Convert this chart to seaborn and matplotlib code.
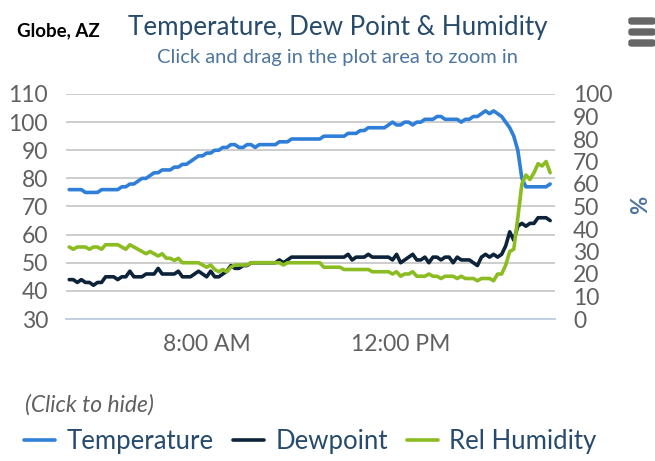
import pandas as pd
import matplotlib
matplotlib.use("Agg")
import matplotlib.pyplot as plt
from matplotlib.patches import FancyBboxPatch
import seaborn as sns

# readings every 5 minutes, 5:10 AM .. 3:05 PM
start_time = "2024-06-01 05:10"
n_points = 120

temperature = [76, 76, 76, 76, 75, 75, 75, 75, 76, 76,
               76, 76, 76, 77, 77, 78, 78, 79, 80, 80,
               81, 82, 82, 83, 83, 83, 84, 84, 85, 85,
               86, 87, 88, 88, 89, 89, 90, 90, 91, 91,
               92, 92, 91, 91, 92, 92, 91, 92, 92, 92,
               92, 92, 93, 93, 93, 94, 94, 94, 94, 94,
               94, 94, 94, 95, 95, 95, 95, 95, 95, 96,
               96, 96, 97, 97, 98, 98, 98, 98, 98, 99,
               100, 99, 99, 100, 100, 99, 100, 100, 101, 101,
               101, 102, 102, 101, 101, 101, 101, 100, 101, 101,
               102, 102, 103, 104, 103, 104, 103, 102, 100, 98,
               95, 90, 80, 77, 77, 77, 77, 77, 77, 78]

dewpoint = [44, 44, 43, 44, 43, 43, 42, 43, 43, 45,
            45, 45, 44, 45, 45, 47, 45, 45, 45, 46,
            46, 46, 48, 46, 46, 46, 46, 47, 45, 45,
            45, 46, 47, 46, 45, 47, 45, 45, 46, 47,
            49, 48, 48, 49, 49, 50, 50, 50, 50, 50,
            50, 50, 51, 50, 51, 52, 52, 52, 52, 52,
            52, 52, 52, 52, 52, 52, 52, 52, 52, 53,
            51, 52, 52, 52, 53, 52, 52, 52, 52, 52,
            51, 53, 50, 51, 52, 53, 51, 51, 52, 50,
            52, 52, 51, 52, 52, 50, 52, 51, 51, 51,
            50, 49, 52, 53, 52, 53, 52, 53, 56, 61,
            58, 63, 64, 63, 64, 64, 66, 66, 66, 65]

rel_humidity = [32, 31, 32, 32, 32, 31, 32, 32, 31, 33,
                33, 33, 33, 32, 31, 33, 32, 31, 30, 29,
                30, 29, 28, 29, 27, 27, 26, 27, 25, 25,
                25, 25, 25, 24, 23, 24, 22, 21, 22, 21,
                23, 24, 24, 24, 24, 25, 25, 25, 25, 25,
                25, 25, 25, 24, 25, 25, 25, 25, 25, 25,
                25, 25, 25, 23, 23, 23, 23, 23, 22, 22,
                22, 22, 22, 22, 22, 21, 21, 21, 21, 21,
                20, 21, 19, 20, 20, 21, 19, 19, 19, 20,
                19, 19, 18, 19, 19, 19, 18, 19, 18, 18,
                18, 17, 18, 18, 18, 17, 20, 20, 24, 30,
                31, 45, 60, 64, 62, 65, 69, 68, 70, 65]

left_ticks = [30, 40, 50, 60, 70, 80, 90, 100, 110]
right_ticks = [0, 10, 20, 30, 40, 50, 60, 70, 80, 90, 100]
x_ticks = ["2024-06-01 08:00", "2024-06-01 12:00"]
x_tick_labels = ["8:00 AM", "12:00 PM"]

df = pd.DataFrame({
    "time": pd.date_range(start_time, periods=n_points, freq="5min"),
    "Temperature": temperature,
    "Dewpoint": dewpoint,
    "Rel Humidity": rel_humidity,
})

sns.set_style("white")
plt.rcParams["font.family"] = ["Lato", "DejaVu Sans"]

c_temp = "#2f7ed8"
c_dew = "#0d233a"
c_rh = "#8bbc21"
label_grey = "#606060"

fig = plt.figure(figsize=(6.55, 4.61), dpi=100)
ax = fig.add_axes([66 / 655, 142 / 461, 489 / 655, 225 / 461])
ax2 = ax.twinx()

sns.lineplot(data=df, x="time", y="Temperature", ax=ax, color=c_temp, lw=2.6, label="Temperature", legend=False)
sns.lineplot(data=df, x="time", y="Dewpoint", ax=ax, color=c_dew, lw=2.6, label="Dewpoint", legend=False)
sns.lineplot(data=df, x="time", y="Rel Humidity", ax=ax2, color=c_rh, lw=2.6, label="Rel Humidity", legend=False)

ax.set_ylim(30, 110)
ax2.set_ylim(0, 100)
ax.set_yticks(left_ticks)
ax2.set_yticks(right_ticks)
ax.set_xlim(pd.Timestamp("2024-06-01 05:06"), pd.Timestamp("2024-06-01 15:11"))
ax.set_xticks([pd.Timestamp(t) for t in x_ticks])
ax.set_xticklabels(x_tick_labels)

ax.grid(axis="y", color="#c0c0c0", lw=1.1)
ax.grid(axis="x", visible=False)
ax.set_xlabel("")
ax.set_ylabel("")
ax2.set_ylabel("")

for a in (ax, ax2):
    for s in ("top", "left", "right"):
        a.spines[s].set_visible(False)
    a.spines["bottom"].set_color("#c0d0e0")
    a.spines["bottom"].set_linewidth(1.2)

ax.tick_params(axis="y", length=0, pad=13, labelsize=16.5, labelcolor=label_grey)
ax2.tick_params(axis="y", length=0, pad=13, labelsize=16.5, labelcolor=label_grey)
ax.tick_params(axis="x", length=7, width=1.2, color="#c0d0e0", pad=4, labelsize=16.5, labelcolor=label_grey)

fig.text(641 / 655, 1 - 205 / 461, "%", rotation=90, ha="center", va="center",
         fontsize=16, fontweight="bold", color="#4d759e")

# titles
fig.text(338 / 655, 1 - 27 / 461, "Temperature, Dew Point & Humidity", ha="center", va="center",
         fontsize=18.7, color="#274b6d")
fig.text(338 / 655, 1 - 58 / 461, "Click and drag in the plot area to zoom in", ha="center", va="center",
         fontsize=14.5, color="#4d759e")
fig.text(17 / 655, 1 - 31 / 461, "Globe, AZ", ha="left", va="center", fontsize=13.5,
         fontweight="bold", color="black")

# menu icon
for yy in (21, 32, 43):
    fig.patches.append(FancyBboxPatch((629 / 655, 1 - (yy + 3) / 461), 26 / 655, 6 / 461,
                                      boxstyle="round,pad=0,rounding_size=0.004",
                                      transform=fig.transFigure, color="#666666"))

fig.text(25 / 655, 1 - 405 / 461, "(Click to hide)", ha="left", va="center", fontsize=16.5,
         style="italic", color=label_grey)

h1, l1 = ax.get_legend_handles_labels()
h2, l2 = ax2.get_legend_handles_labels()
leg = fig.legend(h1 + h2, l1 + l2, loc="center left", bbox_to_anchor=(24 / 655, 1 - 441 / 461),
                 ncol=3, frameon=False, fontsize=18.5, handlelength=1.2, handletextpad=0.45,
                 columnspacing=0.75, borderpad=0, borderaxespad=0)
for t in leg.get_texts():
    t.set_color("#274b6d")

fig.savefig("out.png", dpi=100)
